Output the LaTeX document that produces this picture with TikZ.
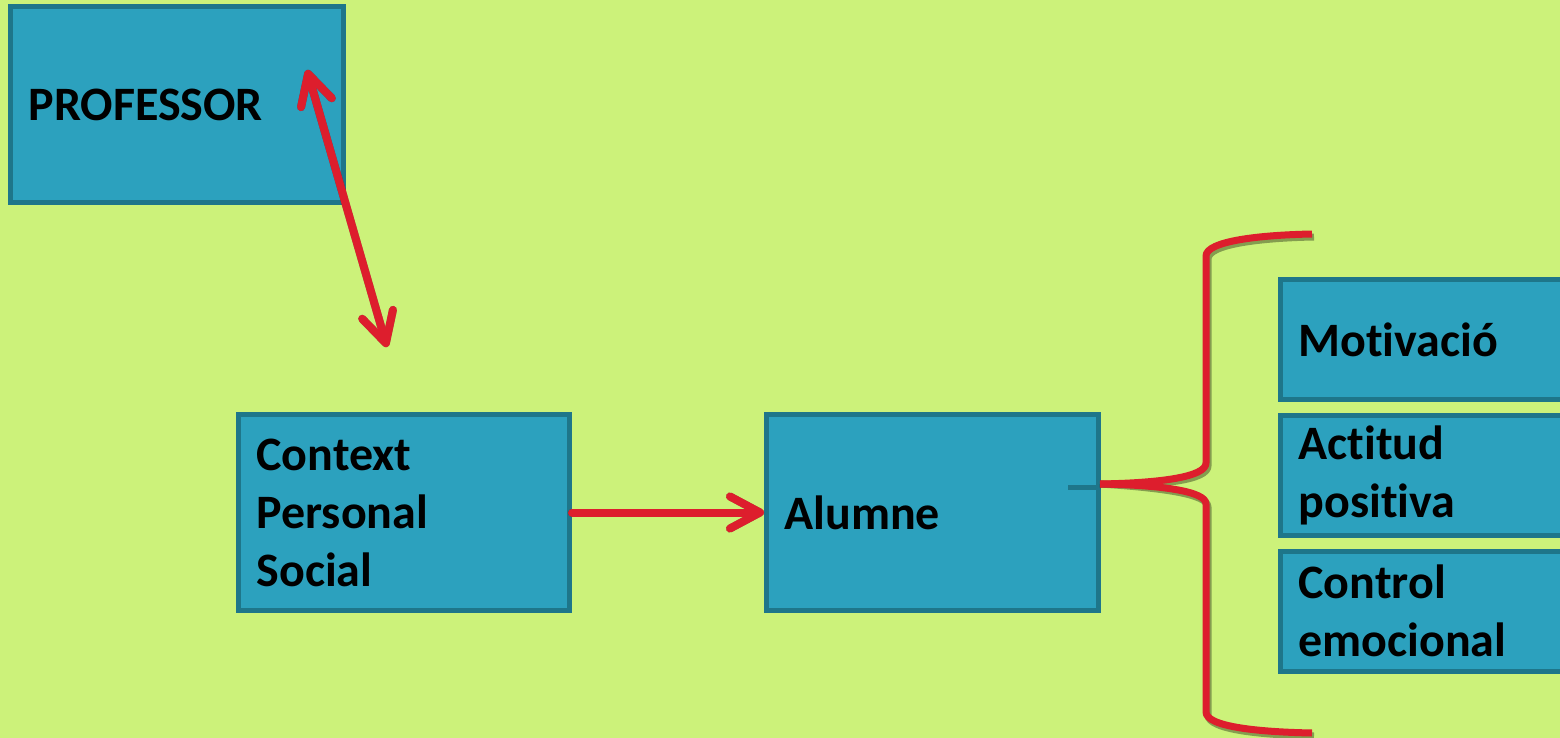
\documentclass[tikz,border=0pt]{standalone}
\usepackage{fontspec}
\setmainfont[Ligatures=NoCommon, RawFeature={-liga;-clig;-dlig;-calt}]{Carlito}
\usetikzlibrary{arrows.meta}
\definecolor{bg}{RGB}{204,242,122}
\definecolor{boxfill}{RGB}{44,161,190}
\definecolor{boxline}{RGB}{30,118,138}
\definecolor{redline}{RGB}{221,30,45}
\tikzset{
  box/.style={draw=boxline, fill=boxfill, line width=2.5pt, rectangle, anchor=north west,
    inner xsep=9pt, inner ysep=0pt, align=left, text=black,
    font=\fontsize{24pt}{29pt}\selectfont\bfseries},
  redpath/.style={draw=redline, line width=4pt, line cap=round, line join=round},
  bracepath/.style={draw=redline, line width=3.5pt, line cap=butt, line join=round},
  shadowpath/.style={draw=black, draw opacity=0.35, xshift=1pt, yshift=-1.5pt},
  tip/.style={arrows={-Straight Barb[length=15pt, width=16pt, round]}},
  dtip/.style={arrows={Straight Barb[length=15pt, width=16pt, round]-Straight Barb[length=15pt, width=16pt, round]}}
}
\begin{document}
\begin{tikzpicture}[x=0.5pt, y=-0.5pt]
\clip (0,0) rectangle (1560,738);
\fill[bg] (0,0) rectangle (1560,738);

% boxes
\node[box, minimum width=166.5pt, minimum height=98pt, text width=148.5pt] (prof) at (8,4) {PROFESSOR};
\node[box, minimum width=165.5pt, minimum height=98pt, text width=147.5pt] (ctx) at (236,412) {Context\\Personal\\Social};
\node[box, minimum width=166pt, minimum height=98pt, text width=148pt] (alum) at (764,412) {Alumne};
\node[box, minimum width=160pt, minimum height=60pt, text width=142pt] (mot) at (1278,277) {Mot\kern0pt ivació};
\node[box, minimum width=160pt, minimum height=60pt, text width=142pt] (act) at (1278,412.5) {Act\kern0pt itud\\positiva};
\node[box, minimum width=160pt, minimum height=60pt, text width=142pt] (ctrl) at (1278,548.5) {Control\\emocional};

% free ends
\coordinate (pa) at (307,70);
\coordinate (pb) at (387,347);
\coordinate (bstart) at (1100,484);
\coordinate (bmark) at (1068,487);

% small dark mark inside Alumne
\draw[boxline, line width=2.5pt] (bmark) -- (bstart |- bmark);

% shadows
\draw[redpath, shadowpath, dtip] (pa) -- (pb);
\draw[redpath, shadowpath, tip] (ctx.east) -- (alum.west);
\draw[bracepath, shadowpath] (bstart) .. controls (1160,483) and (1206,477) .. (1206,463) -- (1206,256) .. controls (1206,241) and (1260,235) .. (1312,234);
\draw[bracepath, shadowpath] (bstart) .. controls (1160,485) and (1206,491) .. (1206,504) -- (1206,712) .. controls (1206,727) and (1260,732) .. (1312,733);

% connectors
\draw[redpath, dtip] (pa) -- (pb);
\draw[redpath, tip] (ctx.east) -- (alum.west);
\draw[bracepath] (bstart) .. controls (1160,483) and (1206,477) .. (1206,463) -- (1206,256) .. controls (1206,241) and (1260,235) .. (1312,234);
\draw[bracepath] (bstart) .. controls (1160,485) and (1206,491) .. (1206,504) -- (1206,712) .. controls (1206,727) and (1260,732) .. (1312,733);
\end{tikzpicture}
\end{document}
